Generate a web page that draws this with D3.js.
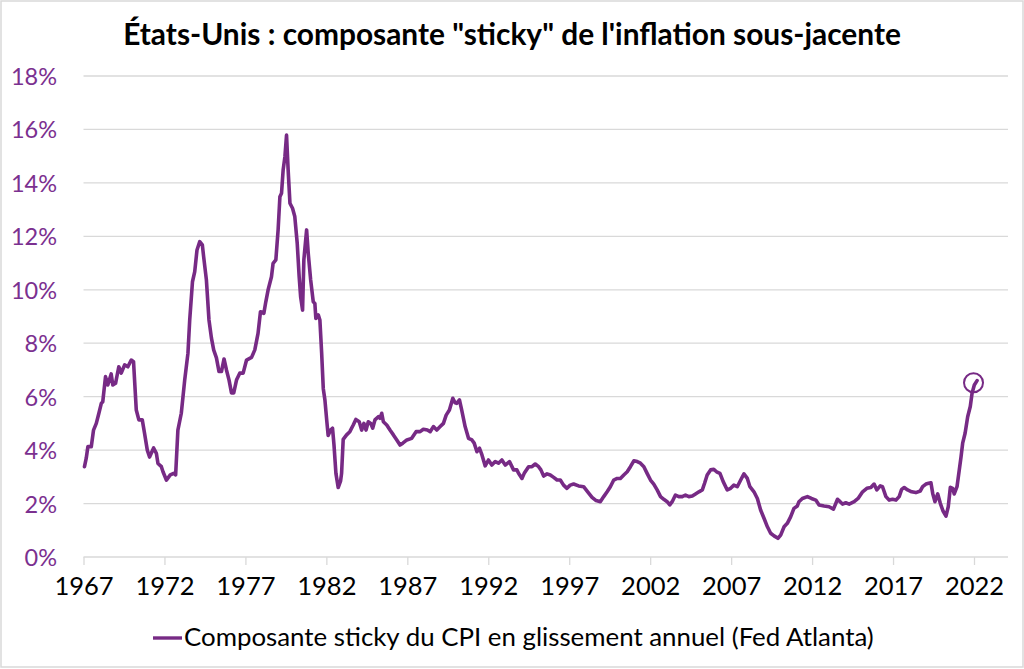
<!DOCTYPE html>
<html>
<head>
<meta charset="utf-8">
<script src="https://cdn.jsdelivr.net/npm/d3@7"></script>
<style>
  html, body { margin: 0; padding: 0; background: #fff; }
  svg { display: block; }
  text { font-family: Lato, "Open Sans", sans-serif; }
</style>
</head>
<body>
<svg id="chart" width="1024" height="669"></svg>
<script>
// ---- Data ----
const title = "États-Unis : composante \"sticky\" de l'inflation sous-jacente";
const seriesName = "Composante sticky du CPI en glissement annuel (Fed Atlanta)";
const xTickYears = [1967, 1972, 1977, 1982, 1987, 1992, 1997, 2002, 2007, 2012, 2017, 2022];
const yTickValues = [0, 2, 4, 6, 8, 10, 12, 14, 16, 18];

const years = [
  1967.06, 1967.17, 1967.27, 1967.48, 1967.62, 1967.79, 1967.95, 1968.10, 1968.19, 1968.36,
  1968.50, 1968.71, 1968.81, 1968.98, 1969.18, 1969.33, 1969.54, 1969.74, 1969.95, 1970.09,
  1970.26, 1970.42, 1970.63, 1970.77, 1970.94, 1971.08, 1971.33, 1971.50, 1971.60, 1971.81,
  1971.91, 1972.12, 1972.36, 1972.57, 1972.69, 1972.83, 1973.04, 1973.25, 1973.45, 1973.56,
  1973.73, 1973.87, 1974.01, 1974.18, 1974.34, 1974.42, 1974.59, 1974.75, 1974.90, 1975.04,
  1975.21, 1975.37, 1975.52, 1975.68, 1975.83, 1975.99, 1976.14, 1976.28, 1976.45, 1976.65,
  1976.86, 1977.07, 1977.38, 1977.58, 1977.78, 1977.93, 1978.14, 1978.26, 1978.40, 1978.61,
  1978.71, 1978.88, 1979.02, 1979.13, 1979.23, 1979.33, 1979.44, 1979.54, 1979.64, 1979.75,
  1979.91, 1980.05, 1980.20, 1980.32, 1980.41, 1980.53, 1980.61, 1980.78, 1980.88, 1981.03,
  1981.19, 1981.29, 1981.35, 1981.50, 1981.60, 1981.71, 1981.81, 1981.91, 1982.02, 1982.11,
  1982.26, 1982.38, 1982.47, 1982.59, 1982.73, 1982.88, 1982.94, 1983.04, 1983.25, 1983.45,
  1983.66, 1983.82, 1984.03, 1984.18, 1984.32, 1984.45, 1984.59, 1984.74, 1984.86, 1985.00,
  1985.21, 1985.31, 1985.42, 1985.52, 1985.73, 1985.93, 1986.14, 1986.35, 1986.55, 1986.72,
  1986.97, 1987.27, 1987.54, 1987.79, 1987.99, 1988.24, 1988.41, 1988.61, 1988.82, 1989.03,
  1989.23, 1989.40, 1989.60, 1989.81, 1989.95, 1990.05, 1990.22, 1990.36, 1990.57, 1990.78,
  1990.99, 1991.13, 1991.30, 1991.46, 1991.61, 1991.81, 1992.01, 1992.22, 1992.43, 1992.63,
  1992.84, 1993.05, 1993.31, 1993.56, 1993.77, 1993.87, 1994.08, 1994.22, 1994.49, 1994.70,
  1994.90, 1995.11, 1995.25, 1995.42, 1995.63, 1995.83, 1996.04, 1996.25, 1996.45, 1996.65,
  1996.86, 1997.06, 1997.27, 1997.58, 1997.89, 1998.14, 1998.41, 1998.66, 1998.92, 1999.13,
  1999.34, 1999.54, 1999.75, 1999.96, 2000.16, 2000.37, 2000.58, 2000.78, 2000.99, 2001.20,
  2001.40, 2001.61, 2001.81, 2002.02, 2002.22, 2002.43, 2002.64, 2002.84, 2003.05, 2003.21,
  2003.36, 2003.56, 2003.77, 2003.98, 2004.18, 2004.39, 2004.60, 2004.80, 2005.01, 2005.22,
  2005.36, 2005.52, 2005.73, 2005.93, 2006.10, 2006.31, 2006.51, 2006.76, 2006.97, 2007.17,
  2007.38, 2007.59, 2007.79, 2008.00, 2008.16, 2008.41, 2008.62, 2008.82, 2009.03, 2009.24,
  2009.44, 2009.65, 2009.89, 2010.06, 2010.27, 2010.47, 2010.68, 2010.88, 2011.09, 2011.19,
  2011.40, 2011.71, 2011.96, 2012.23, 2012.43, 2012.74, 2013.05, 2013.32, 2013.57, 2013.73,
  2013.88, 2014.08, 2014.29, 2014.60, 2014.84, 2015.12, 2015.38, 2015.63, 2015.83, 2016.00,
  2016.21, 2016.35, 2016.56, 2016.76, 2016.97, 2017.18, 2017.38, 2017.53, 2017.69, 2017.90,
  2018.15, 2018.41, 2018.68, 2018.83, 2019.03, 2019.20, 2019.34, 2019.45, 2019.59, 2019.76,
  2019.92, 2020.08, 2020.27, 2020.41, 2020.54, 2020.68, 2020.78, 2020.95, 2021.09, 2021.20,
  2021.30, 2021.45, 2021.61, 2021.77, 2021.88, 2022.02, 2022.19
];
const values = [
  3.38, 3.70, 4.13, 4.13, 4.75, 5.00, 5.38, 5.75, 5.81, 6.75,
  6.44, 6.85, 6.44, 6.50, 7.12, 6.88, 7.19, 7.12, 7.37, 7.31,
  5.50, 5.13, 5.13, 4.63, 4.00, 3.74, 4.08, 3.88, 3.50, 3.38,
  3.19, 2.88, 3.07, 3.13, 3.07, 4.75, 5.38, 6.62, 7.62, 8.87,
  10.30, 10.68, 11.49, 11.80, 11.68, 11.24, 10.37, 8.87, 8.20, 7.75,
  7.45, 6.94, 6.94, 7.41, 7.00, 6.62, 6.14, 6.14, 6.62, 6.88,
  6.88, 7.37, 7.47, 7.75, 8.37, 9.18, 9.12, 9.55, 9.99, 10.49,
  10.99, 11.12, 12.24, 13.48, 13.61, 14.48, 14.98, 15.79, 14.48, 13.24,
  13.05, 12.74, 11.74, 10.49, 9.74, 9.24, 11.12, 12.24, 11.37, 10.37,
  9.55, 9.49, 8.93, 9.06, 8.87, 7.62, 6.30, 5.88, 5.13, 4.55,
  4.75, 4.82, 4.20, 3.13, 2.60, 2.85, 3.13, 4.40, 4.57, 4.69,
  4.94, 5.15, 5.06, 4.75, 5.00, 4.75, 5.06, 5.00, 4.82, 5.13,
  5.25, 5.19, 5.38, 5.06, 4.94, 4.75, 4.57, 4.38, 4.19, 4.26,
  4.38, 4.44, 4.69, 4.69, 4.78, 4.75, 4.69, 4.88, 4.75, 4.88,
  5.00, 5.31, 5.50, 5.94, 5.77, 5.75, 5.88, 5.50, 4.88, 4.44,
  4.38, 4.26, 3.94, 4.07, 3.82, 3.41, 3.63, 3.44, 3.57, 3.51,
  3.63, 3.44, 3.57, 3.26, 3.26, 3.13, 2.94, 3.13, 3.38, 3.38,
  3.48, 3.38, 3.26, 3.03, 3.11, 3.07, 2.98, 2.88, 2.88, 2.69,
  2.57, 2.69, 2.73, 2.66, 2.63, 2.44, 2.23, 2.11, 2.07, 2.26,
  2.44, 2.63, 2.88, 2.94, 2.94, 3.07, 3.19, 3.38, 3.60, 3.57,
  3.51, 3.38, 3.13, 2.88, 2.73, 2.51, 2.26, 2.16, 2.07, 1.95,
  2.07, 2.32, 2.26, 2.26, 2.32, 2.26, 2.28, 2.36, 2.44, 2.51,
  2.76, 3.07, 3.26, 3.28, 3.19, 3.13, 2.82, 2.51, 2.57, 2.69,
  2.63, 2.88, 3.11, 2.94, 2.63, 2.44, 2.19, 1.76, 1.45, 1.13,
  0.89, 0.79, 0.70, 0.82, 1.13, 1.26, 1.51, 1.82, 1.91, 2.07,
  2.19, 2.26, 2.19, 2.13, 1.95, 1.91, 1.88, 1.79, 2.16, 2.07,
  1.98, 2.03, 1.98, 2.07, 2.19, 2.44, 2.57, 2.60, 2.73, 2.51,
  2.66, 2.63, 2.26, 2.13, 2.16, 2.13, 2.26, 2.53, 2.60, 2.51,
  2.44, 2.41, 2.47, 2.63, 2.73, 2.76, 2.78, 2.38, 2.07, 2.36,
  2.01, 1.73, 1.53, 1.88, 2.61, 2.57, 2.36, 2.63, 3.26, 3.75,
  4.26, 4.63, 5.25, 5.63, 6.13, 6.44, 6.60
];
// highlighted latest observation (circled in the reference)
const highlightYear = [2021.97];
const highlightValue = [6.52];

// ---- Layout / styles ----
const W = 1024, H = 669;
const plot = { left: 83.5, right: 1008, top: 76, bottom: 557 };
const purple = "#772A85";
const labelPurple = "#7B3090";
const gridColor = "#d9d9d9";

const svg = d3.select("#chart");

// chart border
svg.append("rect")
  .attr("x", 1).attr("y", 1).attr("width", W - 2).attr("height", H - 3)
  .attr("fill", "#fff").attr("stroke", "#d9d9d9").attr("stroke-width", 1.5);

const x = d3.scaleLinear().domain([1967, 2024.1]).range([plot.left, plot.right]);
const y = d3.scaleLinear().domain([0, 18]).range([plot.bottom, plot.top]);

// gridlines
svg.append("g").selectAll("line")
  .data(yTickValues.filter(v => v > 0))
  .join("line")
  .attr("x1", plot.left).attr("x2", plot.right)
  .attr("y1", d => y(d)).attr("y2", d => y(d))
  .attr("stroke", gridColor).attr("stroke-width", 1.3);

// y axis labels
const yAxis = d3.axisLeft(y).tickValues(yTickValues).tickFormat(d => d + "%").tickSize(0).tickPadding(0);
const gy = svg.append("g").attr("transform", `translate(${57},0)`).call(yAxis);
gy.select(".domain").remove();
gy.selectAll("text")
  .attr("fill", labelPurple)
  .style("font-size", "23.5px")
  .style("font-family", "Lato, 'Open Sans', sans-serif")
  .attr("dy", "0.36em");

// x axis
const xAxis = d3.axisBottom(x).tickValues(xTickYears).tickFormat(d3.format("d")).tickSize(8).tickPadding(12);
const gx = svg.append("g").attr("transform", `translate(0,${plot.bottom})`).call(xAxis);
gx.select(".domain").attr("stroke", gridColor).attr("stroke-width", 1.3)
  .attr("d", `M${plot.left},0H${plot.right}`);
gx.selectAll(".tick line").attr("stroke", gridColor).attr("stroke-width", 1.3);
gx.selectAll("text")
  .attr("fill", "#000")
  .style("font-size", "25.5px")
  .style("font-family", "Lato, 'Open Sans', sans-serif");

// line
const data = years.map((yr, i) => ({ yr, v: values[i] }));
const line = d3.line().x(d => x(d.yr)).y(d => y(d.v)).curve(d3.curveLinear);
svg.append("path")
  .datum(data)
  .attr("d", line)
  .attr("fill", "none")
  .attr("stroke", purple)
  .attr("stroke-width", 3.6)
  .attr("stroke-linejoin", "round")
  .attr("stroke-linecap", "round");

// highlight circle
svg.append("g").selectAll("circle")
  .data(highlightYear.map((yr, i) => ({ yr, v: highlightValue[i] })))
  .join("circle")
  .attr("cx", d => x(d.yr)).attr("cy", d => y(d.v))
  .attr("r", 9.5)
  .attr("fill", "none").attr("stroke", purple).attr("stroke-width", 2);

// helper to fit text to a target width
function fitText(sel, targetWidth, startSize) {
  sel.style("font-size", startSize + "px");
  const w = sel.node().getComputedTextLength();
  const size = startSize * targetWidth / w;
  sel.style("font-size", size.toFixed(2) + "px");
}

// title
const t = svg.append("text")
  .attr("x", 512).attr("y", 45)
  .attr("text-anchor", "middle")
  .style("font-family", "Lato, 'Open Sans', sans-serif")
  .style("font-weight", "bold")
  .attr("fill", "#000")
  .text(title);
fitText(t, 778, 26);

// legend
const lg = svg.append("g");
lg.append("line")
  .attr("x1", 153).attr("x2", 182).attr("y1", 638).attr("y2", 638)
  .attr("stroke", purple).attr("stroke-width", 3.4);
const lt = lg.append("text")
  .attr("x", 184).attr("y", 646)
  .attr("fill", "#000")
  .style("font-family", "Lato, 'Open Sans', sans-serif")
  .text(seriesName);
fitText(lt, 690, 23);
</script>
</body>
</html>
